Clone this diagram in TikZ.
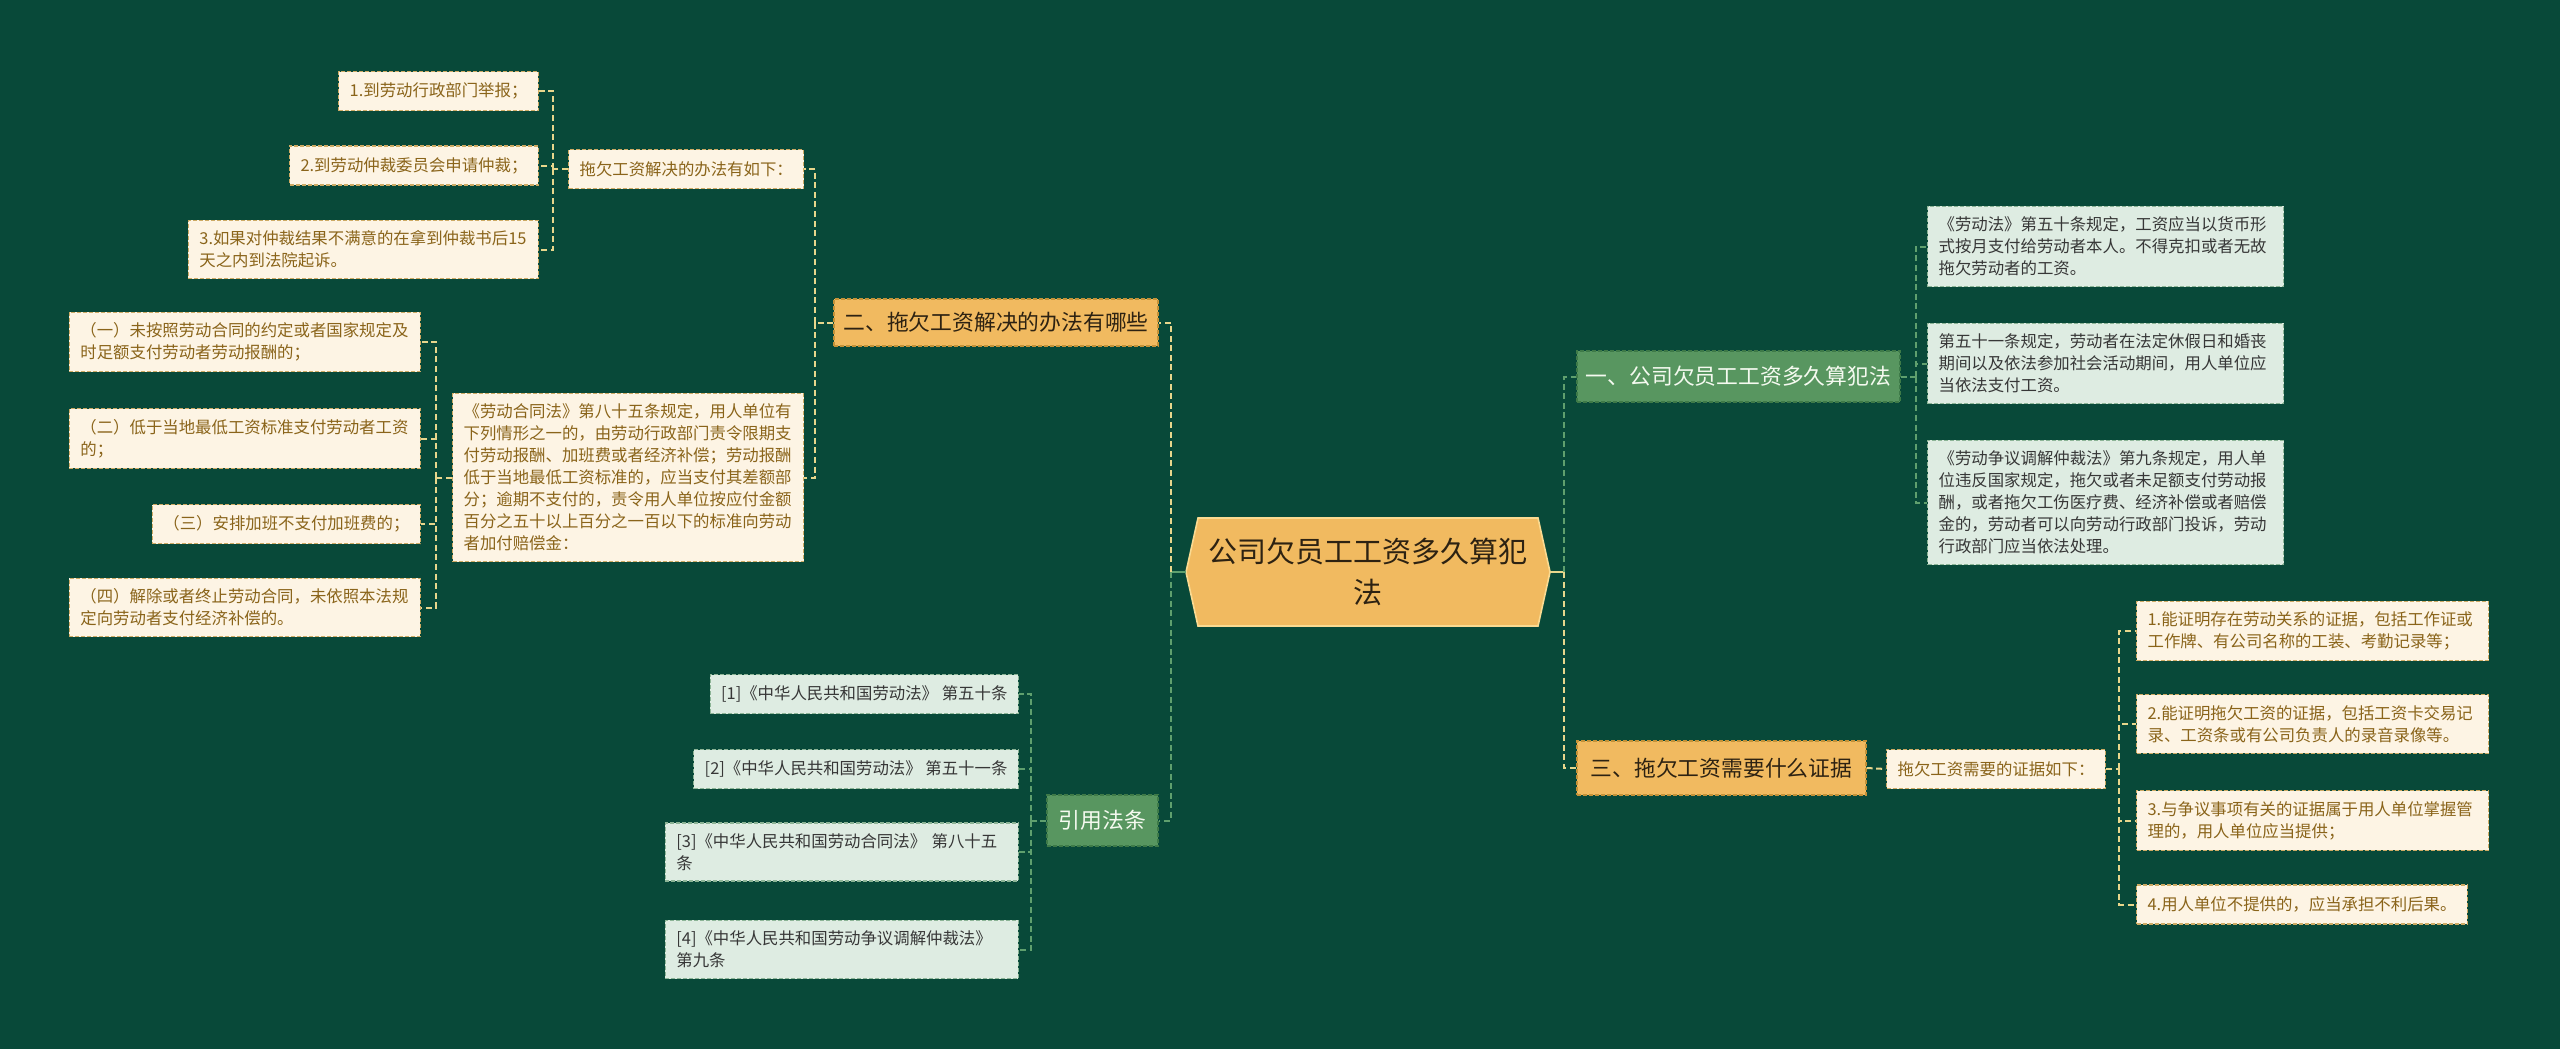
\documentclass[tikz,border=0pt]{standalone}
\usepackage{fontspec}
\setmainfont{Noto Sans CJK SC}
\definecolor{bg}{RGB}{8,73,57}
\definecolor{gold}{RGB}{241,186,96}
\definecolor{goldline}{RGB}{196,146,56}
\definecolor{goldtext}{RGB}{45,34,18}
\definecolor{gnode}{RGB}{88,150,96}
\definecolor{gnodeline}{RGB}{62,122,72}
\definecolor{gnodetext}{RGB}{245,250,240}
\definecolor{cream}{RGB}{253,244,228}
\definecolor{creamline}{RGB}{205,170,100}
\definecolor{creamtext}{RGB}{138,100,26}
\definecolor{lgfill}{RGB}{222,236,226}
\definecolor{lgline}{RGB}{140,180,150}
\definecolor{lgtext}{RGB}{55,55,55}
\definecolor{conyellow}{RGB}{232,214,140}
\definecolor{congreen}{RGB}{95,160,110}
\definecolor{centerline}{RGB}{250,218,145}
\newcommand\fsm{\fontsize{8.2pt}{11pt}\selectfont}
\newcommand\fbr{\fontsize{10.9pt}{13pt}\selectfont}
\newcommand\fct{\fontsize{14.5pt}{20.5pt}\selectfont}
\tikzset{
  leafC/.style={draw=creamline, fill=cream, text=creamtext, dash pattern=on 2pt off 1pt, line width=0.6pt, font=\fsm, inner xsep=5.5pt, inner ysep=5.25pt, align=left, minimum height=19.5pt},
  leafG/.style={draw=lgline, fill=lgfill, text=lgtext, dash pattern=on 2pt off 1pt, line width=0.6pt, font=\fsm, inner xsep=5.5pt, inner ysep=5.25pt, align=left, minimum height=19.5pt},
  brY/.style={draw=goldline, fill=gold, text=goldtext, dash pattern=on 2pt off 1pt, line width=0.6pt, font=\fbr, inner sep=0pt, align=center},
  brG/.style={draw=gnodeline, fill=gnode, text=gnodetext, dash pattern=on 2pt off 1pt, line width=0.6pt, font=\fbr, inner sep=0pt, align=center},
  conY/.style={draw=conyellow, line width=1pt, dash pattern=on 3pt off 1.8pt},
  conG/.style={draw=congreen, line width=1pt, dash pattern=on 3pt off 1.8pt},
  conYs/.style={draw=conyellow, line width=1pt},
  conGs/.style={draw=congreen, line width=1pt},
  ctext/.style={font=\fct, text=goldtext, align=center, inner sep=0pt, minimum width=182pt, minimum height=54pt},
}
\begin{document}
\begin{tikzpicture}[x=0.5pt,y=-0.5pt]
\useasboundingbox (0,0) rectangle (2560,1049);
\fill[bg] (0,0) rectangle (2560,1049);

% center node
\filldraw[fill=gold, draw=centerline, line width=0.8pt] (1198,518) -- (1538,518) -- (1550,572) -- (1538,626) -- (1198,626) -- (1186,572) -- cycle;
\node[ctext] (c) at (1368,572) {公司欠员工工资多久算犯\\法};

% main branches
\node[brY, minimum width=162pt, minimum height=23.5pt] (s2) at (996,322.5) {二、拖欠工资解决的办法有哪些};
\node[brG, minimum width=55.5pt, minimum height=25.5pt] (cite) at (1102.5,820.5) {引用法条};
\node[brG, minimum width=161.5pt, minimum height=25.5pt] (s1) at (1738.5,376.5) {一、公司欠员工工资多久算犯法};
\node[brY, minimum width=144.5pt, minimum height=27pt] (s3) at (1721.5,768) {三、拖欠工资需要什么证据};

% branch 二
\node[leafC, anchor=west] (P1) at (568,169) {拖欠工资解决的办法有如下：};
\node[leafC, anchor=east] (b1) at (539,91) {1.到劳动行政部门举报；};
\node[leafC, anchor=east] (b2) at (539,165.5) {2.到劳动仲裁委员会申请仲裁；};
\node[leafC, anchor=east, text width=164pt] (b3) at (539,249.5) {3.如果对仲裁结果不满意的在拿到仲裁书后15\\天之内到法院起诉。};
\node[leafC, anchor=west, text width=164.5pt] (P2) at (452,477.5) {《劳动合同法》第八十五条规定，用人单位有\\下列情形之一的，由劳动行政部门责令限期支\\付劳动报酬、加班费或者经济补偿；劳动报酬\\低于当地最低工资标准的，应当支付其差额部\\分；逾期不支付的，责令用人单位按应付金额\\百分之五十以上百分之一百以下的标准向劳动\\者加付赔偿金：};
\node[leafC, anchor=east, text width=164.5pt] (l1) at (421,342) {（一）未按照劳动合同的约定或者国家规定及\\时足额支付劳动者劳动报酬的；};
\node[leafC, anchor=east, text width=164.5pt] (l2) at (421,438.5) {（二）低于当地最低工资标准支付劳动者工资\\的；};
\node[leafC, anchor=east] (l3) at (421,524) {（三）安排加班不支付加班费的；};
\node[leafC, anchor=east, text width=164.5pt] (l4) at (421,607.5) {（四）解除或者终止劳动合同，未依照本法规\\定向劳动者支付经济补偿的。};

% citations
\node[leafG, anchor=east] (c1) at (1019,694) {[1]《中华人民共和国劳动法》 第五十条};
\node[leafG, anchor=east] (c2) at (1019,769) {[2]《中华人民共和国劳动法》 第五十一条};
\node[leafG, anchor=east, text width=165.5pt] (c3) at (1019,852) {[3]《中华人民共和国劳动合同法》 第八十五\\条};
\node[leafG, anchor=east, text width=165.5pt] (c4) at (1019,949.5) {[4]《中华人民共和国劳动争议调解仲裁法》\\第九条};

% branch 一
\node[leafG, anchor=west, text width=167pt] (R1) at (1927,246.5) {《劳动法》第五十条规定，工资应当以货币形\\式按月支付给劳动者本人。不得克扣或者无故\\拖欠劳动者的工资。};
\node[leafG, anchor=west, text width=167pt] (R2) at (1927,363.5) {第五十一条规定，劳动者在法定休假日和婚丧\\期间以及依法参加社会活动期间，用人单位应\\当依法支付工资。};
\node[leafG, anchor=west, text width=167pt] (R3) at (1927,502.5) {《劳动争议调解仲裁法》第九条规定，用人单\\位违反国家规定，拖欠或者未足额支付劳动报\\酬，或者拖欠工伤医疗费、经济补偿或者赔偿\\金的，劳动者可以向劳动行政部门投诉，劳动\\行政部门应当依法处理。};

% branch 三
\node[leafC, anchor=west] (E0) at (1886,769) {拖欠工资需要的证据如下：};
\node[leafC, anchor=west, text width=165pt] (E1) at (2136,631) {1.能证明存在劳动关系的证据，包括工作证或\\工作牌、有公司名称的工装、考勤记录等；};
\node[leafC, anchor=west, text width=165pt] (E2) at (2136,724) {2.能证明拖欠工资的证据，包括工资卡交易记\\录、工资条或有公司负责人的录音录像等。};
\node[leafC, anchor=west, text width=165pt] (E3) at (2136,820.5) {3.与争议事项有关的证据属于用人单位掌握管\\理的，用人单位应当提供；};
\node[leafC, anchor=west] (E4) at (2136,904.5) {4.用人单位不提供的，应当承担不利后果。};

% connectors: center
\draw[conGs] (c.west) -- ++(-15,0) coordinate (cL);
\draw[conY] (cL) |- (s2.east);
\draw[conG] (cL) |- (cite.east);
\draw[conYs] (c.east) -- ++(14,0) coordinate (cR);
\draw[conG] (cR) |- (s1.west);
\draw[conY] (cR) |- (s3.west);

% branch 二
\draw[conY] (s2.west) -- ++(-18,0) coordinate (s2L);
\draw[conY] (s2L) |- (P1.east);
\draw[conY] (s2L) |- (P2.east);
\draw[conY] (P1.west) -- ++(-15,0) coordinate (p1L);
\draw[conY] (p1L) |- (b1.east);
\draw[conY] (p1L) |- (b2.east);
\draw[conY] (p1L) |- (b3.east);
\draw[conY] (P2.west) -- ++(-16,0) coordinate (p2L);
\draw[conY] (p2L) |- (l1.east);
\draw[conY] (p2L) |- (l2.east);
\draw[conY] (p2L) |- (l3.east);
\draw[conY] (p2L) |- (l4.east);

% citations
\draw[conG] (cite.west) -- ++(-15,0) coordinate (ciL);
\draw[conG] (ciL) |- (c1.east);
\draw[conG] (ciL) |- (c2.east);
\draw[conG] (ciL) |- (c3.east);
\draw[conG] (ciL) |- (c4.east);

% branch 一
\draw[conG] (s1.east) -- ++(15,0) coordinate (s1R);
\draw[conG] (s1R) |- (R1.west);
\draw[conG] (s1R) |- (R2.west);
\draw[conG] (s1R) |- (R3.west);

% branch 三
\draw[conY] (s3.east) -- (E0.west);
\draw[conY] (E0.east) -- ++(13,0) coordinate (e0R);
\draw[conY] (e0R) |- (E1.west);
\draw[conY] (e0R) |- (E2.west);
\draw[conY] (e0R) |- (E3.west);
\draw[conY] (e0R) |- (E4.west);
\end{tikzpicture}
\end{document}
